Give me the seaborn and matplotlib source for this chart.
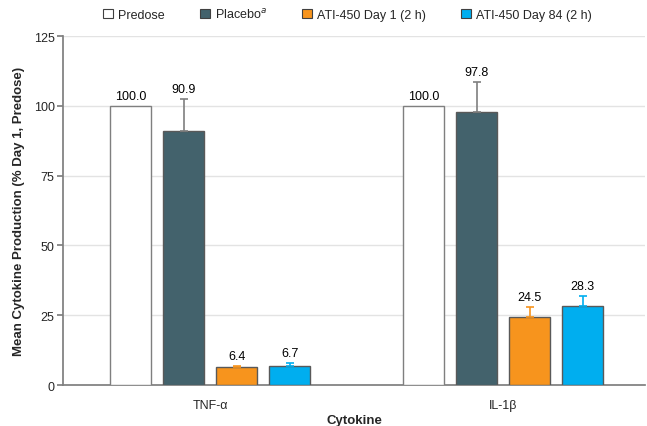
import matplotlib
matplotlib.use("Agg")
import matplotlib.pyplot as plt
import seaborn as sns
import pandas as pd
import numpy as np

# Data
cytokines = ["TNF-α", "IL-1β"]
groups = ["Predose", "Placebo$^{a}$", "ATI-450 Day 1 (2 h)", "ATI-450 Day 84 (2 h)"]
tnf_values = [100.0, 90.9, 6.4, 6.7]
il1b_values = [100.0, 97.8, 24.5, 28.3]
tnf_err = [0.0, 11.6, 0.5, 1.1]
il1b_err = [0.0, 10.8, 3.3, 3.5]

colors = ["#FFFFFF", "#43626C", "#F7941D", "#00AEEF"]
edge_colors = ["#7F7F7F", "#595959", "#595959", "#595959"]
err_colors = ["#7F7F7F", "#7F7F7F", "#F7941D", "#00AEEF"]

df = pd.DataFrame({
    "Cytokine": np.repeat(cytokines, len(groups)),
    "Group": groups * len(cytokines),
    "Value": tnf_values + il1b_values,
    "Err": tnf_err + il1b_err,
})

sns.set_theme(style="white")
plt.rcParams["font.family"] = ["Liberation Sans", "DejaVu Sans"]

fig = plt.figure(figsize=(6.47, 4.27), dpi=100)
ax = fig.add_axes([0.0974, 0.096, 0.9, 0.8173])

sns.barplot(data=df, x="Cytokine", y="Value", hue="Group", hue_order=groups,
            palette=colors, saturation=1, width=0.724, gap=0.226, errorbar=None,
            edgecolor="#595959", linewidth=1.0, ax=ax, legend=False, zorder=3)

# Bars in seaborn are ordered by hue, then by category
bars = ax.patches
for gi in range(len(groups)):
    for ci in range(len(cytokines)):
        bar = bars[gi * len(cytokines) + ci]
        bar.set_edgecolor(edge_colors[gi])
        row = df[(df["Cytokine"] == cytokines[ci]) & (df["Group"] == groups[gi])].iloc[0]
        xc = bar.get_x() + bar.get_width() / 2
        val, err = row["Value"], row["Err"]
        if err > 0:
            ax.errorbar(xc, val, yerr=[[0], [err]], fmt="none", ecolor=err_colors[gi],
                        elinewidth=1.2, capsize=3, capthick=1.2, zorder=4)
        ax.annotate(f"{val:.1f}", (xc, val + err), xytext=(0, 3), textcoords="offset points",
                    ha="center", va="bottom", fontsize=9, color="#000000")

ax.set_ylim(0, 125)
ax.set_yticks([0, 25, 50, 75, 100, 125])
ax.set_xlim(-0.502, 1.485)
ax.yaxis.grid(True, color="#E3E3E3", linewidth=1.0, zorder=0)
ax.set_axisbelow(True)

for s in ["top", "right"]:
    ax.spines[s].set_visible(False)
ax.spines["left"].set_color("#7F7F7F")
ax.spines["bottom"].set_color("#7F7F7F")
ax.tick_params(axis="y", which="both", left=True, length=4, color="#7F7F7F",
               labelsize=9, pad=2)
ax.tick_params(axis="x", bottom=False, labelsize=9, pad=4)

ax.set_xlabel("Cytokine", fontsize=9.5, fontweight="bold", labelpad=2)
ax.set_ylabel("Mean Cytokine Production (% Day 1, Predose)", fontsize=9.5,
              fontweight="bold", labelpad=6)

handles = [plt.Rectangle((0, 0), 1, 1, facecolor=c, edgecolor="#404040", linewidth=0.8)
           for c in colors]
fig.legend(handles, groups, loc="upper center", bbox_to_anchor=(0.537, 1.008), ncol=4,
           frameon=False, fontsize=9, handlelength=0.8, handleheight=0.8,
           handletextpad=0.4, columnspacing=2.8)

fig.savefig("out.png", dpi=100)
